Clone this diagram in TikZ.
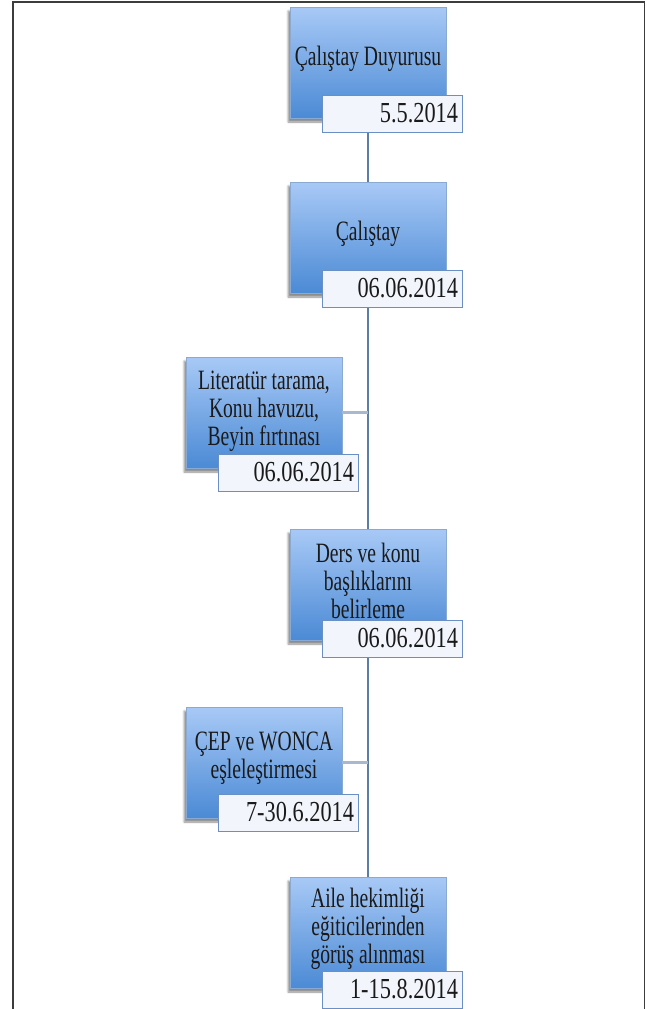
\documentclass[tikz,border=0pt]{standalone}
\usepackage{fontspec}
\setmainfont[FakeStretch=0.7]{Liberation Serif}
\newfontfamily\datefont[FakeStretch=0.77]{Liberation Serif}
\usetikzlibrary{shadows.blur,backgrounds}
\definecolor{boxtop}{HTML}{A8C9F6}
\definecolor{boxbot}{HTML}{4B8AD5}
\definecolor{boxedge}{HTML}{8AAAD2}
\definecolor{datefill}{HTML}{F2F6FC}
\definecolor{dateedge}{HTML}{6A8FC4}
\definecolor{trunkcol}{HTML}{5C7DA4}
\definecolor{branchcol}{HTML}{A8B9CF}
\definecolor{framecol}{HTML}{3C3C3C}
\definecolor{txt}{HTML}{1A1A1A}
\begin{document}
\begin{tikzpicture}[x=1pt,y=-1pt,
  mainbox/.style={draw=boxedge, line width=0.8pt, top color=boxtop, bottom color=boxbot,
    minimum width=156pt, minimum height=111pt, anchor=north west, inner sep=0pt, outer sep=0pt,
    blur shadow={shadow xshift=-2pt, shadow yshift=-4pt, shadow blur steps=6, shadow opacity=45}},
  maintext/.style={align=center, font=\fontsize{28}{28}\selectfont, text=txt, inner sep=0pt},
  datebox/.style={draw=dateedge, line width=1pt, fill=datefill, minimum height=37pt,
    text width=132pt, inner xsep=4pt, inner ysep=0pt, align=right, anchor=north west,
    outer sep=0pt, font=\datefont\fontsize{29}{30}\selectfont, text=txt},
  trunk/.style={draw=trunkcol, line width=1.8pt},
  branch/.style={draw=branchcol, line width=3pt},
  frameline/.style={draw=framecol, line width=1.6pt}]
\useasboundingbox (0,0) rectangle (646,1009);
% frame
\draw[frameline] (13,1009) -- (13,2) -- (644.5,2) -- (644.5,1009);
% trunk x position
\coordinate (tx) at (368,0);
% boxes
\node[mainbox] (b1) at (290,7) {};
\node[maintext] (t1) at ([yshift=4pt]b1.center) {Çalıştay Duyurusu};
\node[datebox] (d1) at (322,95) {5.5.2014};
\node[mainbox] (b2) at (290,182) {};
\node[maintext] (t2) at ([yshift=4pt]b2.center) {Çalıştay};
\node[datebox] (d2) at (322,270) {06.06.2014};
\node[mainbox] (b3) at (186,357) {};
\node[maintext] (t3) at ([yshift=1pt]b3.center) {Literatür tarama,\\Konu havuzu,\\Beyin fırtınası};
\node[datebox] (d3) at (218,454) {06.06.2014};
\node[mainbox] (b4) at (290,529) {};
\node[maintext] (t4) at ([yshift=4pt]b4.center) {Ders ve konu\\başlıklarını\\belirleme};
\node[datebox] (d4) at (322,620) {06.06.2014};
\node[mainbox] (b5) at (186,707) {};
\node[maintext] (t5) at ([yshift=4pt]b5.center) {ÇEP ve WONCA\\eşleleştirmesi};
\node[datebox] (d5) at (218,794) {7-30.6.2014};
\node[mainbox] (b6) at (290,877) {};
\node[maintext] (t6) at ([yshift=4pt]b6.center) {Aile hekimliği\\eğiticilerinden\\görüş alınması};
\node[datebox] (d6) at (322,971) {1-15.8.2014};
\begin{scope}[on background layer]
  \draw[trunk] (d1.south -| tx) -- (b6.north -| tx);
\end{scope}
\draw[branch] (b3.east) -- (b3.east -| tx);
\draw[branch] (b5.east) -- (b5.east -| tx);
\end{tikzpicture}
\end{document}
